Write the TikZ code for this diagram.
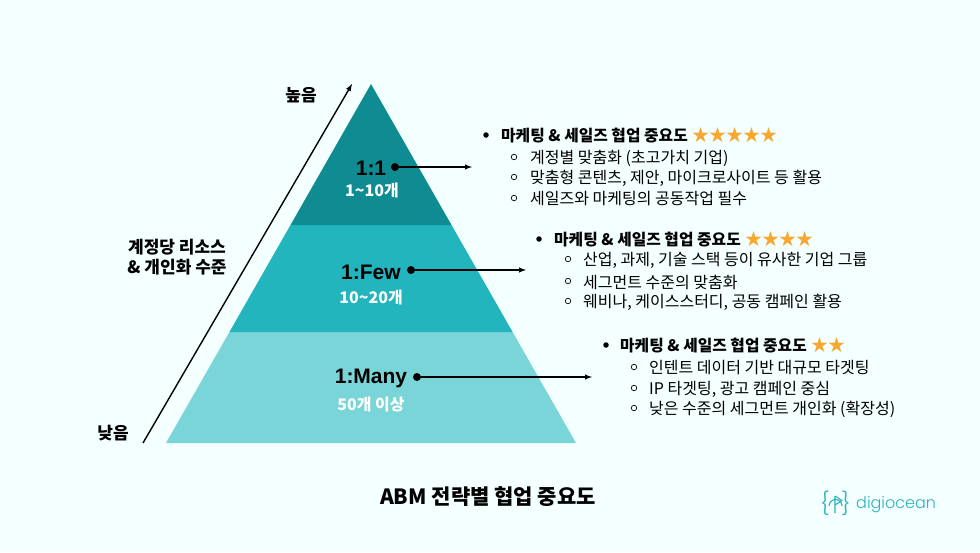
\documentclass[tikz,border=0pt]{standalone}
\usepackage{fontspec}
\setmainfont{Noto Sans CJK KR}
\newfontfamily\logofont{Poppins Light}[BoldFont=Poppins]
\newfontfamily\latfont{Liberation Sans}
\definecolor{mybg}{HTML}{F4FFFF}
\definecolor{mytop}{HTML}{0F8B92}
\definecolor{mymid}{HTML}{22B5BD}
\definecolor{mylow}{HTML}{7AD5D8}
\definecolor{mystar}{HTML}{F8A830}
\definecolor{mylogo}{HTML}{2DB3BC}
\begin{document}
\begin{tikzpicture}[x=1pt,y=-1pt,
  myname/.style={font=\latfont\fontsize{21}{21}\selectfont\bfseries,inner sep=0pt},
  mycount/.style={font=\fontsize{16}{16}\selectfont\bfseries,text=white,inner sep=0pt},
  myside/.style={font=\fontsize{17}{17}\selectfont\bfseries,inner sep=0pt},
  myhead/.style={font=\fontsize{15.8}{16}\selectfont\bfseries,anchor=west,inner sep=0pt},
  myitem/.style={font=\fontsize{16}{16}\selectfont,anchor=west,inner sep=0pt},
  mystars/.style={font=\fontsize{17}{17}\selectfont,text=mystar,anchor=west,inner sep=0pt},
  mydot/.style={circle,fill=black,inner sep=0pt,minimum size=8pt},
  mybul/.style={circle,fill=black,inner sep=0pt,minimum size=5.5pt},
  mysub/.style={circle,draw=black,line width=0.7pt,inner sep=0pt,minimum size=5.5pt},
  myarrow/.style={-latex,line width=1.4pt}]
  \fill[mybg] (0,0) rectangle (980,552);
  \useasboundingbox (0,0) rectangle (980,552);

  % pyramid
  \fill[mylow] (166,443) -- (229.4,332) -- (512.6,332) -- (576,443) -- cycle;
  \fill[mymid] (229.4,332) -- (290.5,225) -- (451.5,225) -- (512.6,332) -- cycle;
  \fill[mytop] (290.5,225) -- (371,84) -- (451.5,225) -- cycle;

  % axis
  \coordinate (low) at (143,443);
  \coordinate (high) at (352,84);
  \draw[myarrow] (low) -- (high);
  \node[myside] (hightxt) at (301,95) {높음};
  \node[myside] (lowtxt) at (113,433) {낮음};
  \node[myside] (res1) at (177,247) {계정당 리소스};
  \node[myside] (res2) at (177,267) {\& 개인화 수준};

  % levels
  \node[myname] (one) at (371,168) {1:1};
  \node[mycount] (onec) at (372,190) {1\textasciitilde10개};
  \node[myname] (few) at (371,272) {1:Few};
  \node[mycount] (fewc) at (371,297) {10\textasciitilde20개};
  \node[myname] (many) at (371,378) {1:Many};
  \node[mycount] (manyc) at (371,405) {50개 이상};

  \node[mydot] (d1) at (395,167) {};
  \node[mydot] (d2) at (411,270) {};
  \node[mydot] (d3) at (417,377) {};
  \coordinate (e1) at (472,167);
  \coordinate (e2) at (526,270);
  \coordinate (e3) at (592,377);
  \draw[myarrow] (d1) -- (e1);
  \draw[myarrow] (d2) -- (e2);
  \draw[myarrow] (d3) -- (e3);

  % first list
  \node[mybul] (b1) at (486,135) {};
  \node[myhead] (h1) at (501,136) {마케팅 \& 세일즈 협업 중요도};
  \node[mystars] (s1) at (692,135) {★★★★★};
  \node[mysub] (b11) at (514,157) {};
  \node[mysub] (b12) at (514,177) {};
  \node[mysub] (b13) at (514,198) {};
  \node[myitem] (t11) at (530,158) {계정별 맞춤화 (초고가치 기업)};
  \node[myitem] (t12) at (530,178) {맞춤형 콘텐츠, 제안, 마이크로사이트 등 활용};
  \node[myitem] (t13) at (530,199) {세일즈와 마케팅의 공동작업 필수};

  % second list
  \node[mybul] (b2) at (539,239) {};
  \node[myhead] (h2) at (554,240) {마케팅 \& 세일즈 협업 중요도};
  \node[mystars] (s2) at (745,239) {★★★★};
  \node[mysub] (b21) at (568,259) {};
  \node[mysub] (b22) at (568,281) {};
  \node[mysub] (b23) at (568,301) {};
  \node[myitem] (t21) at (583,260) {산업, 과제, 기술 스택 등이 유사한 기업 그룹};
  \node[myitem] (t22) at (583,282) {세그먼트 수준의 맞춤화};
  \node[myitem] (t23) at (583,302) {웨비나, 케이스스터디, 공동 캠페인 활용};

  % third list
  \node[mybul] (b3) at (606,345) {};
  \node[myhead] (h3) at (620,346) {마케팅 \& 세일즈 협업 중요도};
  \node[mystars] (s3) at (811,345) {★★};
  \node[mysub] (b31) at (634,367) {};
  \node[mysub] (b32) at (634,388) {};
  \node[mysub] (b33) at (634,408) {};
  \node[myitem] (t31) at (649,368) {인텐트 데이터 기반 대규모 타겟팅};
  \node[myitem] (t32) at (649,389) {IP 타겟팅, 광고 캠페인 중심};
  \node[myitem] (t33) at (649,409) {낮은 수준의 세그먼트 개인화 (확장성)};

  % title
  \node[font=\fontsize{21}{21}\selectfont\bfseries,inner sep=0pt] (title) at (488,497) {ABM 전략별 협업 중요도};

  % logo
  \node[font=\logofont\fontsize{16}{16}\selectfont,text=mylogo,anchor=west,inner sep=0pt] (logo) at (856,505) {digiocean};
  \node[font=\logofont\fontsize{22}{22}\selectfont,text=mylogo,inner sep=0pt] (lb) at (825,503) {\{};
  \node[font=\logofont\fontsize{22}{22}\selectfont,text=mylogo,inner sep=0pt] (rb) at (846,503) {\}};
  \draw[mylogo,line width=1.1pt] (835,496) -- (835,513) (829,506) arc[start angle=180,end angle=360,radius=6.5];
  \draw[mylogo,line width=1.1pt,line join=round] (835,496) -- (842,500.5) -- (835,505);
\end{tikzpicture}
\end{document}
